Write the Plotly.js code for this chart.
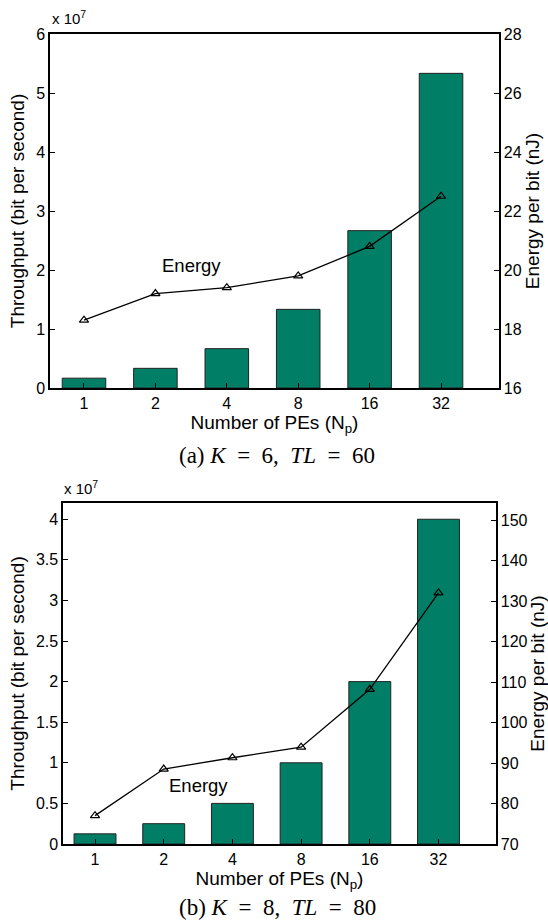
<!DOCTYPE html>
<html>
<head>
<meta charset="utf-8">
<script src="https://cdn.plot.ly/plotly-3.0.1.min.js"></script>
<style>html,body{margin:0;padding:0;background:#fff;}#chart{width:548px;height:924px;}</style>
</head>
<body>
<div id="chart"></div>
<script>
// ---- data ----
const categories = ['1', '2', '4', '8', '16', '32'];
// (a) K = 6, TL = 60
const throughputA = [1.667e6, 3.333e6, 6.667e6, 1.333e7, 2.667e7, 5.333e7];
const energyA = [18.3, 19.2, 19.4, 19.8, 20.8, 22.5];
const leftTicksA = ['0', '1', '2', '3', '4', '5', '6'];
const rightTicksA = ['16', '18', '20', '22', '24', '26', '28'];
// (b) K = 8, TL = 80
const throughputB = [1.25e6, 2.5e6, 5e6, 1e7, 2e7, 4e7];
const energyB = [77.0, 88.5, 91.3, 93.9, 108.2, 132.0];
const leftTicksB = ['0', '0.5', '1', '1.5', '2', '2.5', '3', '3.5', '4'];
const rightTicksB = ['70', '80', '90', '100', '110', '120', '130', '140', '150'];

// ---- geometry helpers (pixels -> paper) ----
const W = 548, H = 924;
const px = x => x / W;
const py = y => 1 - y / H;

const FONT = 'Liberation Sans, Arial, sans-serif';
const SERIF = 'Liberation Serif, Times New Roman, serif';
const barColor = '#007f66';
const EN = '\u2002', NB = '\u00a0';

const lineStyle = {color: '#000', width: 1.3};
const markerStyle = {symbol: 'triangle-up-open', size: 8, color: '#000', line: {width: 1.2, color: '#000'}};

const data = [
  {type: 'bar', x: categories, y: throughputA, xaxis: 'x', yaxis: 'y', width: 0.61,
   marker: {color: barColor, line: {color: '#222', width: 1}}, showlegend: false},
  {type: 'scatter', mode: 'lines+markers', x: categories, y: energyA, xaxis: 'x', yaxis: 'y2',
   line: lineStyle, marker: markerStyle, showlegend: false},
  {type: 'bar', x: categories, y: throughputB, xaxis: 'x3', yaxis: 'y3', width: 0.61,
   marker: {color: barColor, line: {color: '#222', width: 1}}, showlegend: false},
  {type: 'scatter', mode: 'lines+markers', x: categories, y: energyB, xaxis: 'x3', yaxis: 'y4',
   line: lineStyle, marker: markerStyle, showlegend: false}
];

function range(a, b, s) { const r = []; for (let v = a; v <= b + 1e-9; v += s) r.push(+v.toFixed(6)); return r; }

const tickFont = {family: FONT, size: 16, color: '#000'};
const titleFont = {family: FONT, size: 19, color: '#000'};

function baseY(extra) {
  return Object.assign({showline: true, linecolor: '#000', linewidth: 1.6, ticks: 'inside', ticklen: 5,
    tickcolor: '#000', tickfont: tickFont, showgrid: false, zeroline: false}, extra);
}

const layout = {
  width: W, height: H,
  margin: {l: 0, r: 0, t: 0, b: 0},
  paper_bgcolor: '#fff', plot_bgcolor: 'rgba(0,0,0,0)',
  showlegend: false,
  // ---- chart (a) ----
  xaxis: {domain: [px(50), px(499)], anchor: 'y', type: 'category', range: [-0.476, 5.812],
    showline: true, mirror: true, linecolor: '#000', linewidth: 1.6,
    ticks: 'inside', ticklen: 5, tickcolor: '#000', tickfont: tickFont, showgrid: false, zeroline: false,
    title: {text: 'Number of PEs (N<sub>p</sub>)', font: titleFont, standoff: 1}},
  xaxis2: {domain: [px(50), px(499)], anchor: 'y', overlaying: 'x', side: 'top', range: [0.5, 6.5],
    tickvals: [1, 2, 3, 4, 5, 6], showticklabels: false, ticks: 'inside', ticklen: 5, tickcolor: '#000',
    showgrid: false, zeroline: false, showline: false},
  yaxis: baseY({domain: [py(388), py(34)], anchor: 'x', range: [0, 6e7],
    tickvals: range(0, 6e7, 1e7), ticktext: leftTicksA,
    title: {text: 'Throughput (bit per second)', font: titleFont, standoff: 6}}),
  yaxis2: baseY({domain: [py(388), py(34)], anchor: 'x', overlaying: 'y', side: 'right', range: [16, 28],
    tickvals: range(16, 28, 2), ticktext: rightTicksA,
    title: {text: 'Energy per bit (nJ)', font: titleFont, standoff: 4}}),
  // ---- chart (b) ----
  xaxis3: {domain: [px(63), px(496)], anchor: 'y3', type: 'category', range: [-0.466, 5.837],
    showline: true, mirror: true, linecolor: '#000', linewidth: 1.6,
    ticks: 'inside', ticklen: 5, tickcolor: '#000', tickfont: tickFont, showgrid: false, zeroline: false,
    title: {text: 'Number of PEs (N<sub>p</sub>)', font: titleFont, standoff: 1}},
  xaxis4: {domain: [px(63), px(496)], anchor: 'y3', overlaying: 'x3', side: 'top', range: [0.5, 6.5],
    tickvals: [1, 2, 3, 4, 5, 6], showticklabels: false, ticks: 'inside', ticklen: 5, tickcolor: '#000',
    showgrid: false, zeroline: false, showline: false},
  yaxis3: baseY({domain: [py(844), py(503)], anchor: 'x3', range: [0, 4.2e7],
    tickvals: range(0, 4e7, 0.5e7), ticktext: leftTicksB,
    title: {text: 'Throughput (bit per second)', font: titleFont, standoff: 6}}),
  yaxis4: baseY({domain: [py(844), py(503)], anchor: 'x3', overlaying: 'y3', side: 'right', range: [70, 154.2],
    tickvals: range(70, 150, 10), ticktext: rightTicksB,
    title: {text: 'Energy per bit (nJ)', font: titleFont, standoff: 4}}),
  annotations: [
    {xref: 'paper', yref: 'paper', x: px(50), y: py(29), xanchor: 'left', yanchor: 'bottom', showarrow: false,
     text: 'x 10<sup>7</sup>', font: {family: FONT, size: 15, color: '#000'}},
    {xref: 'paper', yref: 'paper', x: px(62), y: py(499), xanchor: 'left', yanchor: 'bottom', showarrow: false,
     text: 'x 10<sup>7</sup>', font: {family: FONT, size: 15, color: '#000'}},
    {xref: 'paper', yref: 'paper', x: px(191), y: py(266), xanchor: 'center', yanchor: 'middle', showarrow: false,
     text: 'Energy', font: {family: FONT, size: 18.5, color: '#000'}},
    {xref: 'paper', yref: 'paper', x: px(198), y: py(785), xanchor: 'center', yanchor: 'middle', showarrow: false,
     text: 'Energy', font: {family: FONT, size: 18.5, color: '#000'}},
    {xref: 'paper', yref: 'paper', x: px(277), y: py(456), xanchor: 'center', yanchor: 'middle', showarrow: false,
     text: '(a)' + NB + '<i>K</i>' + EN + '=' + EN + '6,' + EN + '<i>TL</i>' + EN + '=' + EN + '60',
     font: {family: SERIF, size: 23, color: '#000'}},
    {xref: 'paper', yref: 'paper', x: px(277), y: py(907), xanchor: 'center', yanchor: 'middle', showarrow: false,
     text: '(b)' + NB + '<i>K</i>' + EN + '=' + EN + '8,' + EN + '<i>TL</i>' + EN + '=' + EN + '80',
     font: {family: SERIF, size: 23, color: '#000'}}
  ]
};

Plotly.newPlot('chart', data, layout, {displayModeBar: false, staticPlot: true});
</script>
</body>
</html>
